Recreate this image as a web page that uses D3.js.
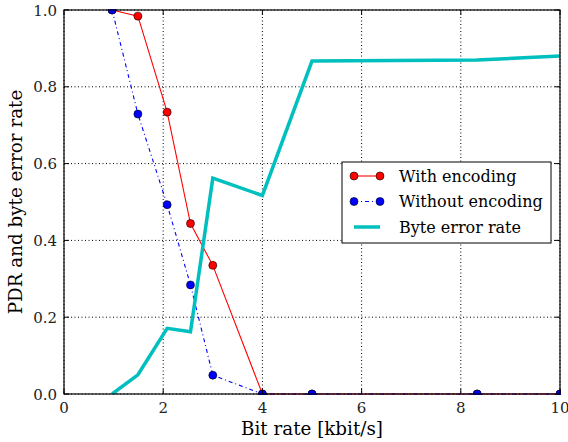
<!DOCTYPE html>
<html>
<head>
<meta charset="utf-8">
<script src="https://cdn.jsdelivr.net/npm/d3@7"></script>
<style>
  html, body { margin: 0; padding: 0; background: #fff; }
</style>
</head>
<body>
<div id="container"></div>
<script>
const width = 568, height = 442;
const margin = { top: 10, right: 8, bottom: 48, left: 64 };
const iw = width - margin.left - margin.right;
const ih = height - margin.top - margin.bottom;
const font = "'DejaVu Serif', 'Liberation Serif', serif";

// Data
const bitRate = [0.97, 1.49, 2.08, 2.55, 3.0, 4.0, 5.0, 8.33, 10.0];
const withEncoding = [1.0, 0.984, 0.734, 0.444, 0.335, 0, 0, 0, 0];
const withoutEncoding = [1.0, 0.729, 0.493, 0.284, 0.049, 0, 0, 0, 0];
const byteErrorRate = [0, 0.05, 0.171, 0.162, 0.562, 0.517, 0.867, 0.870, 0.880];
const xTicks = [0, 2, 4, 6, 8, 10];
const yTicks = [0, 0.2, 0.4, 0.6, 0.8, 1.0];

const svg = d3.select("#container").append("svg")
  .attr("width", width).attr("height", height);

const g = svg.append("g").attr("transform", `translate(${margin.left},${margin.top})`);

const x = d3.scaleLinear().domain([0, 10]).range([0, iw]);
const y = d3.scaleLinear().domain([0, 1]).range([ih, 0]);

// dotted grid
xTicks.forEach(v => {
  g.append("line").attr("x1", x(v)).attr("x2", x(v)).attr("y1", 0).attr("y2", ih)
    .attr("stroke", "#000").attr("stroke-width", 1).attr("stroke-dasharray", "1,2.5");
});
yTicks.forEach(v => {
  g.append("line").attr("x1", 0).attr("x2", iw).attr("y1", y(v)).attr("y2", y(v))
    .attr("stroke", "#000").attr("stroke-width", 1).attr("stroke-dasharray", "1,2.5");
});

svg.append("clipPath").attr("id", "clip")
  .append("rect").attr("x", -1).attr("y", -1).attr("width", iw + 2).attr("height", ih + 2);

const plot = g.append("g").attr("clip-path", "url(#clip)");

const pts = ys => bitRate.map((b, i) => [b, ys[i]]);
const line = d3.line().x(d => x(d[0])).y(d => y(d[1]));

// With encoding (red)
plot.append("path").datum(pts(withEncoding))
  .attr("fill", "none").attr("stroke", "#ff0000").attr("stroke-width", 1.1).attr("d", line);
// Without encoding (blue, dash-dot)
plot.append("path").datum(pts(withoutEncoding))
  .attr("fill", "none").attr("stroke", "#0000ff").attr("stroke-width", 1.1)
  .attr("stroke-dasharray", "4,3,1,3").attr("d", line);
// Byte error rate (cyan)
plot.append("path").datum(pts(byteErrorRate))
  .attr("fill", "none").attr("stroke", "#00bfbf").attr("stroke-width", 3.5)
  .attr("stroke-linejoin", "miter").attr("d", line);

plot.selectAll(".mr").data(pts(withEncoding)).join("circle")
  .attr("cx", d => x(d[0])).attr("cy", d => y(d[1])).attr("r", 4)
  .attr("fill", "#ff0000").attr("stroke", "#000").attr("stroke-width", 0.6);
plot.selectAll(".mb").data(pts(withoutEncoding)).join("circle")
  .attr("cx", d => x(d[0])).attr("cy", d => y(d[1])).attr("r", 4)
  .attr("fill", "#0000ff").attr("stroke", "#000").attr("stroke-width", 0.6);

// frame
g.append("rect").attr("width", iw).attr("height", ih)
  .attr("fill", "none").attr("stroke", "#000").attr("stroke-width", 1.2);

// inward ticks on all sides
const tl = 5;
xTicks.forEach(v => {
  g.append("line").attr("x1", x(v)).attr("x2", x(v)).attr("y1", ih).attr("y2", ih - tl).attr("stroke", "#000");
  g.append("line").attr("x1", x(v)).attr("x2", x(v)).attr("y1", 0).attr("y2", tl).attr("stroke", "#000");
  g.append("text").attr("x", x(v)).attr("y", ih + 19).attr("text-anchor", "middle")
    .attr("fill", "#222").style("font-family", font).style("font-size", "15px").text(v);
});
yTicks.forEach(v => {
  g.append("line").attr("x1", 0).attr("x2", tl).attr("y1", y(v)).attr("y2", y(v)).attr("stroke", "#000");
  g.append("line").attr("x1", iw).attr("x2", iw - tl).attr("y1", y(v)).attr("y2", y(v)).attr("stroke", "#000");
  g.append("text").attr("x", -7).attr("y", y(v) + 5.5).attr("text-anchor", "end")
    .attr("fill", "#222").style("font-family", font).style("font-size", "15px").text(v.toFixed(1));
});

// axis labels
svg.append("text").attr("x", margin.left + iw / 2).attr("y", 435).attr("text-anchor", "middle")
  .attr("fill", "#000").style("font-family", font).style("font-size", "18.3px").text("Bit rate [kbit/s]");
svg.append("text").attr("transform", `translate(22,${margin.top + ih / 2}) rotate(-90)`)
  .attr("text-anchor", "middle").attr("fill", "#000")
  .style("font-family", font).style("font-size", "18.3px")
  .text("PDR and byte error rate");

// legend
const lg = svg.append("g").attr("transform", "translate(342,162)");
lg.append("rect").attr("width", 209).attr("height", 81)
  .attr("fill", "#fff").attr("stroke", "#000").attr("stroke-width", 1);
const entries = [
  { label: "With encoding", color: "#ff0000", dash: null, marker: true, w: 1.1 },
  { label: "Without encoding", color: "#0000ff", dash: "4,3,1,3", marker: true, w: 1.1 },
  { label: "Byte error rate", color: "#00bfbf", dash: null, marker: false, w: 3.5 },
];
entries.forEach((e, i) => {
  const ly = 14 + i * 25.5;
  lg.append("line").attr("x1", 12).attr("x2", 38).attr("y1", ly).attr("y2", ly)
    .attr("stroke", e.color).attr("stroke-width", e.w)
    .attr("stroke-dasharray", e.dash);
  if (e.marker) {
    [12, 38].forEach(cx => lg.append("circle").attr("cx", cx).attr("cy", ly).attr("r", 4)
      .attr("fill", e.color).attr("stroke", "#000").attr("stroke-width", 0.6));
  }
  lg.append("text").attr("x", 57).attr("y", ly + 5.5).attr("fill", "#000")
    .style("font-family", font).style("font-size", "16px").text(e.label);
});
</script>
</body>
</html>
